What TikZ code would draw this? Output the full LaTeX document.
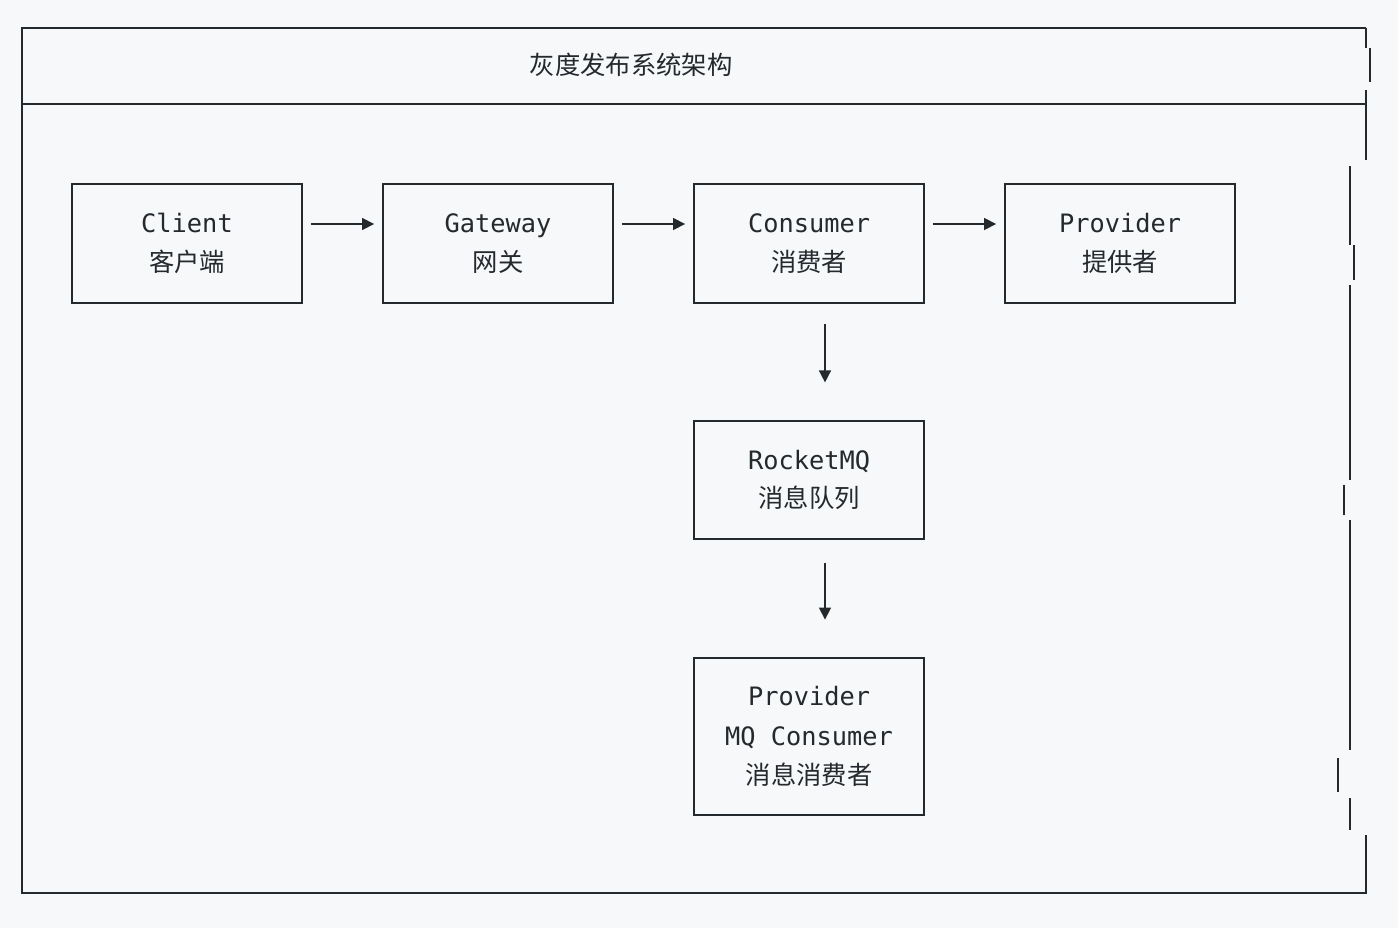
\documentclass[tikz,border=0pt]{standalone}
\usepackage{fontspec}
\setmainfont{DejaVu Sans Mono}
\newfontfamily\cjk{Noto Sans CJK SC}
\usetikzlibrary{arrows.meta}
\definecolor{bg}{HTML}{F6F8FA}
\definecolor{ink}{HTML}{24292E}
\begin{document}
\begin{tikzpicture}[x=0.75pt,y=-0.75pt,
  box/.style={draw=ink,line width=1.4pt,minimum width=172.5pt,minimum height=89pt,inner sep=0pt,align=center,font=\fontsize{19}{29}\selectfont,text=ink},
  arr/.style={draw=ink,line width=1.2pt,-{Triangle[length=9pt,width=9pt]}}]
\fill[bg] (0,0) rectangle (1398,928);
\useasboundingbox (0,0) rectangle (1398,928);
\draw[ink,line width=1.4pt] (1366,28) -- (22,28) -- (22,893) -- (1366,893) -- (1366,835);
\draw[ink,line width=1.4pt] (22,104) -- (1366,104);
\draw[ink,line width=1.4pt] (1366,28) -- (1366,48) (1370,48) -- (1370,82) (1366,90) -- (1366,160)
  (1350,166) -- (1350,245) (1354,245) -- (1354,280) (1350,285) -- (1350,480) (1344,485) -- (1344,515)
  (1350,520) -- (1350,750) (1338,758) -- (1338,792) (1350,798) -- (1350,830);
\node[font=\cjk\fontsize{19}{22}\selectfont,text=ink] (title) at (631,65) {灰度发布系统架构};
\node[box] (client) at (187,243.5) {Client\\{\cjk 客户端}};
\node[box] (gw) at (498,243.5) {Gateway\\{\cjk 网关}};
\node[box] (cons) at (809,243.5) {Consumer\\{\cjk 消费者}};
\node[box] (prov) at (1120,243.5) {Provider\\{\cjk 提供者}};
\node[box] (mq) at (809,480) {RocketMQ\\{\cjk 消息队列}};
\node[box,minimum height=118pt,font=\fontsize{19}{29.5}\selectfont] (pmq) at (809,736.5) {Provider\\MQ Consumer\\{\cjk 消息消费者}};
\draw[arr] ([xshift=6pt]client.east|-0,224) -- ([xshift=-6pt]gw.west|-0,224);
\draw[arr] ([xshift=6pt]gw.east|-0,224) -- ([xshift=-6pt]cons.west|-0,224);
\draw[arr] ([xshift=6pt]cons.east|-0,224) -- ([xshift=-6pt]prov.west|-0,224);
\draw[arr] ([yshift=-15pt]cons.south-|825,0) -- ([yshift=28pt]mq.north-|825,0);
\draw[arr] ([yshift=-17pt]mq.south-|825,0) -- ([yshift=28pt]pmq.north-|825,0);
\end{tikzpicture}
\end{document}
